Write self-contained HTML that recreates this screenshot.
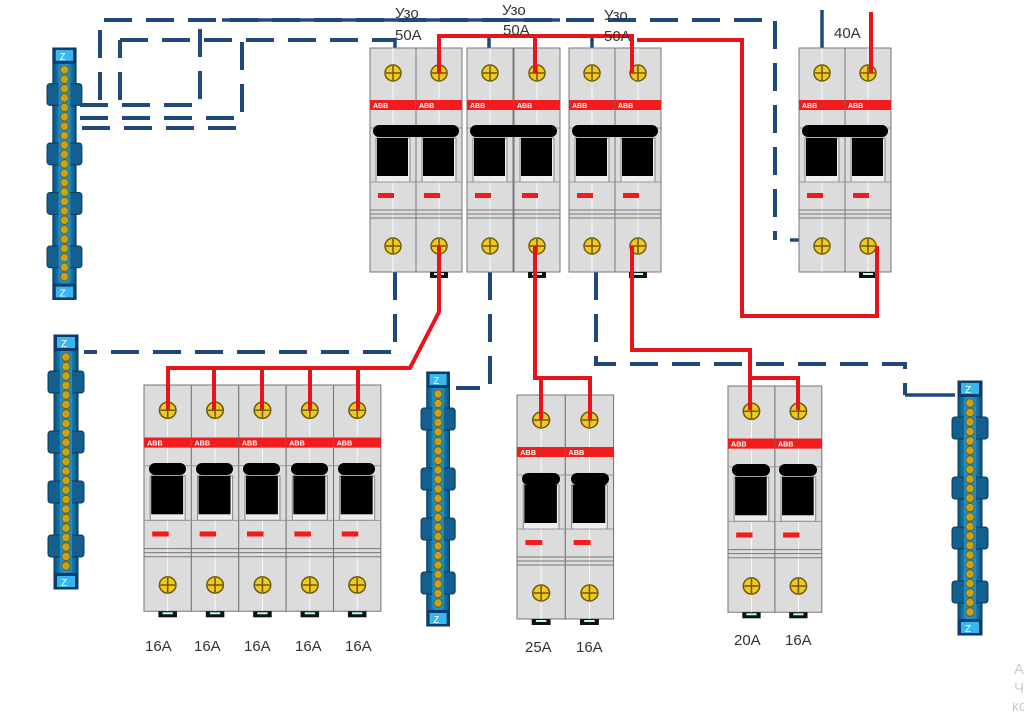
<!DOCTYPE html>
<html><head><meta charset="utf-8"><style>
html,body{margin:0;padding:0;background:#fff}
svg{display:block}
text{font-family:"Liberation Sans",sans-serif}
</style></head><body>
<svg width="1024" height="712" viewBox="0 0 1024 712" xmlns="http://www.w3.org/2000/svg">
<defs>
<linearGradient id="bg" x1="0" x2="1" y1="0" y2="0">
<stop offset="0" stop-color="#0b4f7a"/><stop offset="0.4" stop-color="#1d95cf"/><stop offset="0.6" stop-color="#1d95cf"/><stop offset="1" stop-color="#0b4f7a"/></linearGradient>
<g id="scr">
<circle r="8" fill="#f2c91c" stroke="#6b5a10" stroke-width="1.5"/>
<path d="M-7 0H7M0 -7V7" stroke="#6b5a10" stroke-width="1.5"/>
</g>
<g id="poleb">
<rect x="0" y="0" width="46" height="224" fill="#dcdcdc" stroke="#777" stroke-width="1"/>
<line x1="23" y1="0" x2="23" y2="224" stroke="#fff" stroke-width="0.8"/>
<rect x="0" y="52" width="46" height="10" fill="#f21c1c"/>
<text x="3" y="60" font-size="7" font-weight="bold" fill="#fff">ABB</text>
<line x1="0" y1="80" x2="46" y2="80" stroke="#999"/>
<rect x="6" y="90" width="34" height="44" fill="#eee" stroke="#888"/>
<rect x="7" y="90" width="31" height="38" fill="#000"/>
<line x1="0" y1="134" x2="46" y2="134" stroke="#999"/>
<rect x="8" y="145" width="16" height="5" fill="#f21c1c"/>
<path d="M0 162H46M0 166H46M0 170H46" stroke="#777" stroke-width="1"/>
<use href="#scr" x="23" y="25"/>
<use href="#scr" x="23" y="198"/>
</g>
<g id="pole">
<use href="#poleb"/>
<rect x="14" y="224" width="18" height="6" fill="#111"/>
<rect x="18" y="225" width="10" height="2" fill="#bfe"/>
</g>
<g id="bus">
<rect x="6" y="0" width="24" height="254" fill="url(#bg)" stroke="#083a5a"/>
<rect x="6" y="0" width="24" height="16" fill="#0a3d6e"/>
<rect x="9" y="2" width="18" height="11" fill="#3ab6ee"/>
<text x="13" y="12" font-size="10" fill="#fff">Z</text>
<rect x="6" y="238" width="24" height="16" fill="#0a3d6e"/>
<rect x="9" y="241" width="18" height="11" fill="#3ab6ee"/>
<text x="13" y="251" font-size="10" fill="#fff">Z</text>
<rect x="0" y="36" width="36" height="22" rx="3" fill="#125f90" stroke="#083a5a"/>
<rect x="0" y="96" width="36" height="22" rx="3" fill="#125f90" stroke="#083a5a"/>
<rect x="0" y="146" width="36" height="22" rx="3" fill="#125f90" stroke="#083a5a"/>
<rect x="0" y="200" width="36" height="22" rx="3" fill="#125f90" stroke="#083a5a"/>
<rect x="12" y="18" width="12" height="218" fill="#1a8fc8"/>
<g fill="#c9a21a" stroke="#6b5a10" stroke-width="0.8">
<circle cx="18" cy="22" r="4.2"/><circle cx="18" cy="31.5" r="4.2"/><circle cx="18" cy="41" r="4.2"/><circle cx="18" cy="50.5" r="4.2"/><circle cx="18" cy="60" r="4.2"/><circle cx="18" cy="69.5" r="4.2"/><circle cx="18" cy="79" r="4.2"/><circle cx="18" cy="88.5" r="4.2"/><circle cx="18" cy="98" r="4.2"/><circle cx="18" cy="107.5" r="4.2"/><circle cx="18" cy="117" r="4.2"/><circle cx="18" cy="126.5" r="4.2"/><circle cx="18" cy="136" r="4.2"/><circle cx="18" cy="145.5" r="4.2"/><circle cx="18" cy="155" r="4.2"/><circle cx="18" cy="164.5" r="4.2"/><circle cx="18" cy="174" r="4.2"/><circle cx="18" cy="183.5" r="4.2"/><circle cx="18" cy="193" r="4.2"/><circle cx="18" cy="202.5" r="4.2"/><circle cx="18" cy="212" r="4.2"/><circle cx="18" cy="221.5" r="4.2"/><circle cx="18" cy="231" r="4.2"/>
</g>
</g>
</defs>

<use href="#bus" transform="translate(47,48) scale(0.97,0.99)"/>
<use href="#bus" transform="translate(48,335) scale(1,1)"/>
<use href="#bus" transform="translate(421,372) scale(0.95,1)"/>
<use href="#bus" transform="translate(952,381) scale(1,1)"/>

<g fill="none" stroke="#1f497d" stroke-width="4" stroke-dasharray="28,14">
<path d="M100 100V20H775V240"/>
<path d="M120 40H395"/>
<path d="M120 100V40"/>
<path d="M80 105H200V20"/>
<path d="M80 118H242V35"/>
<path d="M82 128H242"/>
<path d="M395 272V352H84"/>
<path d="M490 272V388H456"/>
<path d="M596 272V364H905V395"/>
</g>
<g fill="none" stroke="#1f497d" stroke-width="3.5">
<path d="M395 73V38"/>
<path d="M489 73V35"/>
<path d="M592 73V35"/>
<path d="M822 73V10"/>
<path d="M790 240H822"/>
<path d="M905 395H955"/>
<path d="M456 388H480"/>
<path d="M395 246V280"/>
<path d="M490 246V280"/>
<path d="M596 246V280"/>
<path d="M222 20H560"/>
</g>

<use href="#poleb" x="370" y="48"/><use href="#pole" x="416" y="48"/>
<use href="#poleb" x="467" y="48"/><use href="#pole" x="514" y="48"/>
<use href="#poleb" x="569" y="48"/><use href="#pole" x="615" y="48"/>
<use href="#poleb" x="799" y="48"/><use href="#pole" x="845" y="48"/>
<g fill="#000">
<rect x="373" y="125" width="86" height="12" rx="6"/>
<rect x="470" y="125" width="87" height="12" rx="6"/>
<rect x="572" y="125" width="86" height="12" rx="6"/>
<rect x="802" y="125" width="86" height="12" rx="6"/>
</g>
<g transform="translate(144,385) scale(1.03,1.01)">
<use href="#pole" x="0" y="0"/><use href="#pole" x="46" y="0"/><use href="#pole" x="92" y="0"/><use href="#pole" x="138" y="0"/><use href="#pole" x="184" y="0"/>
</g>
<g fill="#000">
<rect x="149" y="463" width="37" height="12" rx="6"/><rect x="196" y="463" width="37" height="12" rx="6"/><rect x="243" y="463" width="37" height="12" rx="6"/><rect x="291" y="463" width="37" height="12" rx="6"/><rect x="338" y="463" width="37" height="12" rx="6"/>
</g>
<g transform="translate(517,395) scale(1.05,1)">
<use href="#pole" x="0" y="0"/><use href="#pole" x="46" y="0"/>
</g>
<g fill="#000"><rect x="522" y="473" width="38" height="12" rx="6"/><rect x="571" y="473" width="38" height="12" rx="6"/></g>
<g transform="translate(728,386) scale(1.02,1.01)">
<use href="#pole" x="0" y="0"/><use href="#pole" x="46" y="0"/>
</g>
<g fill="#000"><rect x="732" y="464" width="38" height="12" rx="6"/><rect x="779" y="464" width="38" height="12" rx="6"/></g>

<g fill="none" stroke="#e8141c" stroke-width="4" stroke-linejoin="miter">
<path d="M439 73V36H535V73"/>
<path d="M535 36H632V73"/>
<path d="M637 40H742V316H877V246"/>
<path d="M871 12V73"/>
<path d="M439 246V312L410 368H168V410"/>
<path d="M214 368V410M262 368V410M310 368V410M358 368V410"/>
<path d="M535 246V378H590V420M541 378V420"/>
<path d="M632 246V350H750V410M750 378H798V410"/>
</g>

<g font-size="15" fill="#333">
<text x="395" y="18">Узо</text><text x="395" y="40">50A</text>
<text x="502" y="15">Узо</text><text x="503" y="35">50A</text>
<text x="604" y="20">Узо</text><text x="604" y="41">50A</text>
<text x="834" y="38">40A</text>
<text x="145" y="651">16A</text><text x="194" y="651">16A</text><text x="244" y="651">16A</text><text x="295" y="651">16A</text><text x="345" y="651">16A</text>
<text x="525" y="652">25A</text><text x="576" y="652">16A</text>
<text x="734" y="645">20A</text><text x="785" y="645">16A</text>
</g>
<g font-size="15" fill="#ccc"><text x="1014" y="674">А</text><text x="1014" y="693">Ч</text><text x="1012" y="711">ко</text></g>
</svg>
</body></html>
